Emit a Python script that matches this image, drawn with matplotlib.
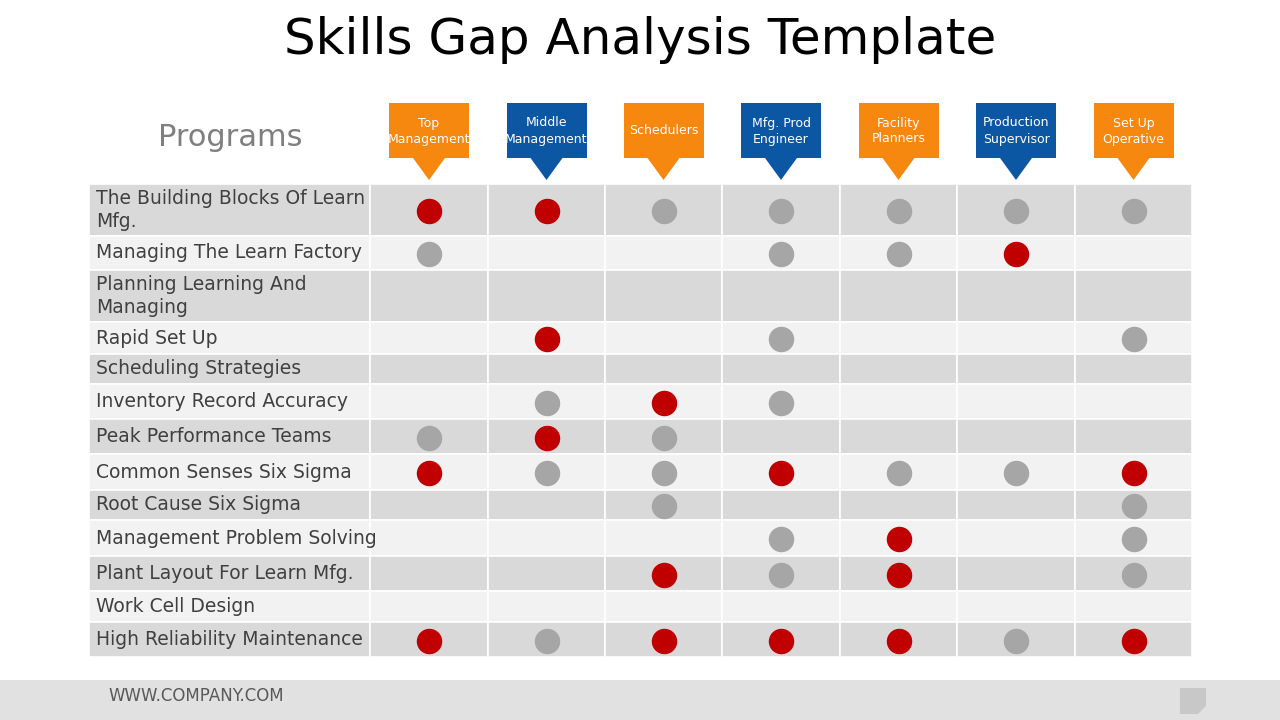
import matplotlib
matplotlib.use("Agg")
import matplotlib.pyplot as plt
from matplotlib.patches import Rectangle, Polygon

programs = ["The Building Blocks Of Learn\nMfg.", "Managing The Learn Factory",
            "Planning Learning And\nManaging", "Rapid Set Up", "Scheduling Strategies",
            "Inventory Record Accuracy", "Peak Performance Teams", "Common Senses Six Sigma",
            "Root Cause Six Sigma", "Management Problem Solving", "Plant Layout For Learn Mfg.",
            "Work Cell Design", "High Reliability Maintenance"]
roles = ["Top\nManagement", "Middle\nManagement", "Schedulers", "Mfg. Prod\nEngineer",
         "Facility\nPlanners", "Production\nSupervisor", "Set Up\nOperative"]
role_colors = ["#F7880F", "#0B57A4", "#F7880F", "#0B57A4", "#F7880F", "#0B57A4", "#F7880F"]
# 0 = none, 1 = gray, 2 = red
marks = [
    [2, 2, 1, 1, 1, 1, 1],
    [1, 0, 0, 1, 1, 2, 0],
    [0, 0, 0, 0, 0, 0, 0],
    [0, 2, 0, 1, 0, 0, 1],
    [0, 0, 0, 0, 0, 0, 0],
    [0, 1, 2, 1, 0, 0, 0],
    [1, 2, 1, 0, 0, 0, 0],
    [2, 1, 1, 2, 1, 1, 2],
    [0, 0, 1, 0, 0, 0, 1],
    [0, 0, 0, 1, 2, 0, 1],
    [0, 0, 2, 1, 2, 0, 1],
    [0, 0, 0, 0, 0, 0, 0],
    [2, 1, 2, 2, 2, 1, 2],
]

row_edges = [184, 236, 270, 322, 354, 384, 419, 454, 490, 520, 556, 591, 622, 657]
col_edges = [89, 370, 488, 605, 722, 840, 957, 1075, 1192]

fig = plt.figure(figsize=(12.8, 7.2), dpi=100)
ax = fig.add_axes([0, 0, 1, 1])
ax.set_xlim(0, 1280); ax.set_ylim(720, 0); ax.axis("off")

ax.text(640, 40, "Skills Gap Analysis Template", ha="center", va="center", fontsize=36, color="black")
ax.text(230, 138, "Programs", ha="center", va="center", fontsize=22, color="#7f7f7f")

for r in range(len(programs)):
    y0, y1 = row_edges[r], row_edges[r + 1]
    bg = "#D9D9D9" if r % 2 == 0 else "#F2F2F2"
    for c in range(len(col_edges) - 1):
        x0, x1 = col_edges[c], col_edges[c + 1]
        ax.add_patch(Rectangle((x0, y0), x1 - x0, y1 - y0, facecolor=bg, edgecolor="white", lw=1.2))
    ax.text(96, (y0 + y1) / 2, programs[r], ha="left", va="center", fontsize=13.5,
            color="#404040", linespacing=1.3)
    for c, m in enumerate(marks[r]):
        if m:
            cx = (col_edges[c + 1] + col_edges[c + 2]) / 2
            ax.scatter([cx], [(y0 + y1) / 2 + 1], s=300,
                       color="#C00000" if m == 2 else "#A6A6A6", zorder=3)

for c, (role, col) in enumerate(zip(roles, role_colors)):
    cx = (col_edges[c + 1] + col_edges[c + 2]) / 2
    ax.add_patch(Rectangle((cx - 40, 103), 80, 55, facecolor=col, edgecolor="none"))
    ax.add_patch(Polygon([(cx - 16, 158), (cx + 16, 158), (cx, 180)], closed=True,
                         facecolor=col, edgecolor="none"))
    ax.text(cx, 131, role, ha="center", va="center", fontsize=9, color="white", linespacing=1.3)

ax.add_patch(Rectangle((0, 680), 1280, 40, facecolor="#E1E1E1", edgecolor="none"))
ax.text(108, 696, "WWW.COMPANY.COM", ha="left", va="center", fontsize=12, color="#595959")
ax.add_patch(Polygon([(1180, 688), (1206, 688), (1206, 706), (1198, 714), (1180, 714)],
                     closed=True, facecolor="#C8C8C8", edgecolor="none"))

fig.savefig("out.png", dpi=100)
